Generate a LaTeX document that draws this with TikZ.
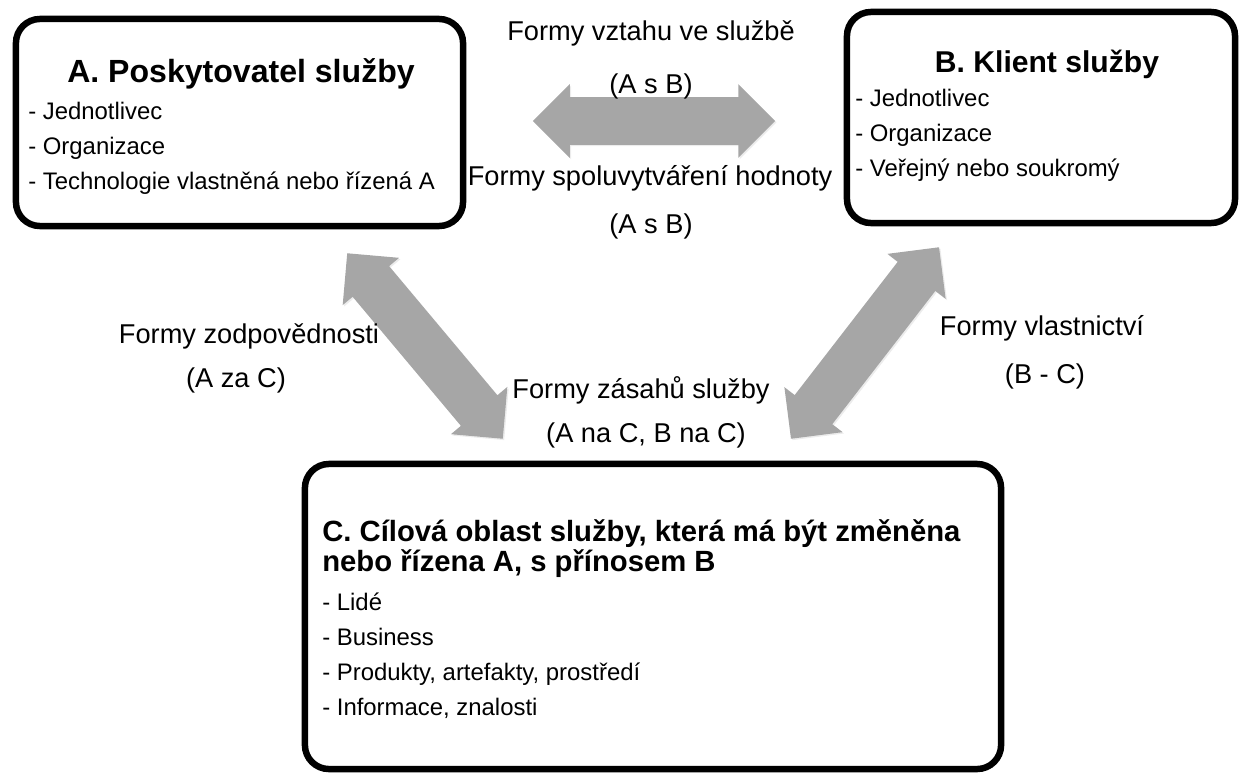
\documentclass[tikz,border=0pt]{standalone}
\usepackage{fontspec}
\setmainfont{Liberation Sans}
\usetikzlibrary{shapes.arrows,shadows}
\definecolor{FormGray}{HTML}{A6A6A6}
\tikzset{
    % Actor box style
    actornode/.style={
        draw=black,
        fill=white,
        line width=4.6pt,
        rounded corners=0.6cm,
        inner sep=0pt,
        drop shadow={opacity=0.3, shadow xshift=1.5pt, shadow yshift=-1.5pt}
    },
    % Box title
    titletext/.style={
        inner sep=0pt,
        font=\fontsize{#1}{#1}\selectfont\bfseries
    },
    % List entry in a box
    itemtext/.style={
        inner sep=0pt,
        anchor=base west,
        font=\fontsize{17}{20}\selectfont
    },
    % Form label
    formlabel/.style={
        inner sep=0pt,
        anchor=base,
        font=\fontsize{19.35}{23}\selectfont
    },
    % Block double arrow
    formarrow/.style={
        double arrow,
        fill=FormGray,
        draw=none,
        sloped,
        midway,
        inner xsep=0pt,
        inner ysep=0.5875cm,
        minimum height=6.05cm,
        minimum width=1.825cm,
        double arrow head extend=0.325cm,
        drop shadow={opacity=0.15, shadow xshift=1pt, shadow yshift=-1pt}
    }
}

\begin{document}
\begin{tikzpicture}[x=0.025cm, y=-0.025cm]
    \useasboundingbox (0,0) rectangle (1240,776);

    % Boxes
    \node[actornode, minimum width=11.175cm, minimum height=5.175cm] (provider) at (239.5,122.5) {};
    \node[actornode, minimum width=9.7cm, minimum height=5.275cm] (client) at (1041,117.5) {};
    \node[actornode, minimum width=17.4cm, minimum height=7.625cm] (target) at (653,616.5) {};

    % Titles
    \node[titletext=22.8, anchor=base] (providertitle) at (241,82) {A. Poskytovatel služby};
    \node[titletext=21.4, anchor=base] (clienttitle) at (1047,72) {B. Klient služby};
    \node[titletext=20.8, anchor=base west] (targettitle-1) at (322,541) {C. Cílová oblast služby, která má být změněna};
    \node[titletext=20.8, anchor=base west] (targettitle-2) at (322,571) {nebo řízena A, s přínosem B};

    % Entries
    \foreach \entry [count=\i] in {Jednotlivec, Organizace, Technologie vlastněná nebo řízená A}
        \node[itemtext] (provider-\i) at (28,84+35*\i) {- \entry};
    \foreach \entry [count=\i] in {Jednotlivec, Organizace, Veřejný nebo soukromý}
        \node[itemtext] (client-\i) at (855,71+35*\i) {- \entry};
    \foreach \entry [count=\i] in {Lidé, Business, {Produkty, artefakty, prostředí}, {Informace, znalosti}}
        \node[itemtext] (target-\i) at (322,575+35*\i) {- \entry};

    % Arrow ends
    \coordinate (relation-a) at (533,121);
    \coordinate (relation-b) at (775,121);
    \coordinate (responsibility-a) at (347,253);
    \coordinate (responsibility-c) at (503,439);
    \coordinate (ownership-b) at (940,246);
    \coordinate (ownership-c) at (790,440);

    % Arrows
    \path (relation-a) -- node[formarrow] (relation) {} (relation-b);
    \path (responsibility-a) -- node[formarrow] (responsibility) {} (responsibility-c);
    \path (ownership-c) -- node[formarrow] (ownership) {} (ownership-b);

    % Labels
    \node[formlabel] (relation-1) at (651,40) {Formy vztahu ve službě};
    \node[formlabel] (relation-2) at (651,93) {(A s B)};
    \node[formlabel] (cocreation-1) at (650,185) {Formy spoluvytváření hodnoty};
    \node[formlabel] (cocreation-2) at (651,233) {(A s B)};
    \node[formlabel] (responsibility-1) at (249,343) {Formy zodpovědnosti};
    \node[formlabel] (responsibility-2) at (236,387) {(A za C)};
    \node[formlabel] (intervention-1) at (641,398) {Formy zásahů služby};
    \node[formlabel] (intervention-2) at (646,442) {(A na C, B na C)};
    \node[formlabel] (ownership-1) at (1042,335) {Formy vlastnictví};
    \node[formlabel] (ownership-2) at (1045,383) {(B - C)};
\end{tikzpicture}
\end{document}
